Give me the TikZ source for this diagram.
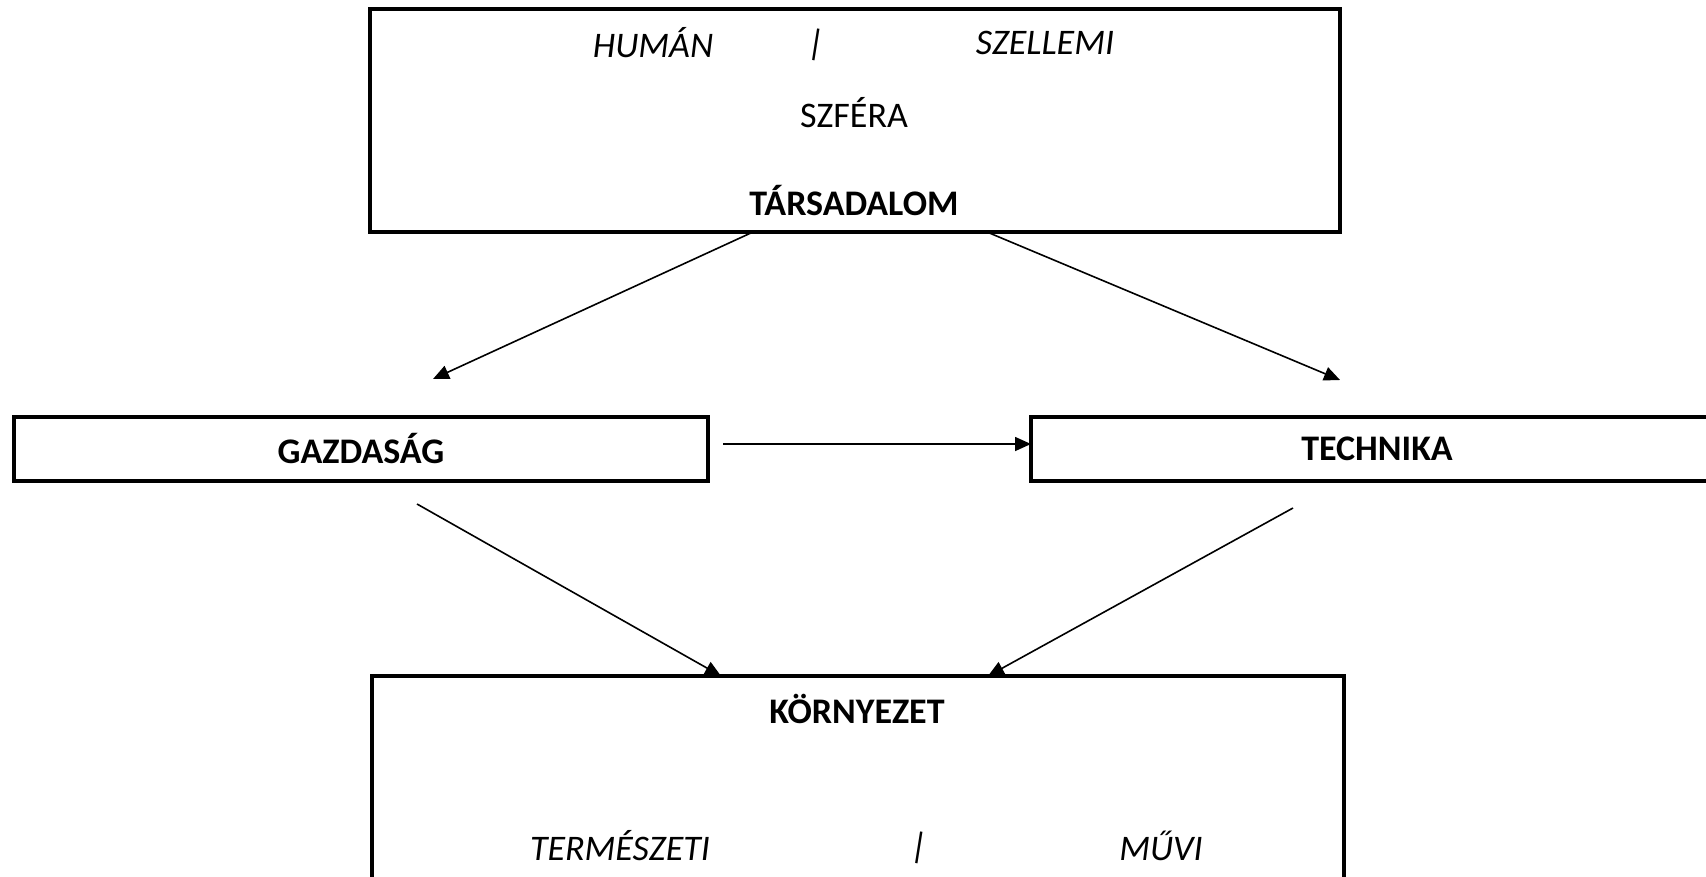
\documentclass[tikz,border=0pt]{standalone}
\usepackage{fontspec}
\setmainfont{Carlito}
\usetikzlibrary{arrows.meta}
\tikzset{
  doboz/.style={draw,line width=1.6pt,inner sep=0pt},
  felirat/.style={inner sep=0pt,font=\fontsize{18}{22}\selectfont},
  ferde/.style={felirat,rotate=-9},
  nyil/.style={->,line width=0.8pt}
}
\begin{document}
\begin{tikzpicture}[x=0.5pt,y=-0.5pt,>={Triangle[length=8pt,width=7pt]}]
\useasboundingbox (0,0) rectangle (1706,877);
\clip (0,0) rectangle (1706,877); %a kép széle
% dobozok
\node[doboz,minimum width=485pt,minimum height=111.5pt] (tars) at (855,120.5) {};
\node[doboz,minimum width=347pt,minimum height=32pt] (gazd) at (361,449) {};
\node[doboz,minimum width=346pt,minimum height=32pt] (tech) at (1377,449) {};
\node[doboz,minimum width=486pt,minimum height=112pt] (korny) at (858,788) {};
% feliratok
\node[felirat] (human) at (653,43) {\itshape HUMÁN};
\node[ferde] (vonal1) at (816,45) {|};
\node[felirat] (szell) at (1045,43) {\itshape SZELLEMI};
\node[felirat] (szfera) at (854,113) {SZFÉRA};
\node[felirat] (tarsfel) at (854,201) {\bfseries TÁRSADALOM};
\node[felirat] (gazdfel) at (361,449) {\bfseries GAZDASÁG};
\node[felirat] (techfel) at (1377,449) {\bfseries TECHNIKA};
\node[felirat] (kornyfel) at (857,709) {\bfseries KÖRNYEZET};
\node[felirat] (term) at (620,846) {\itshape TERMÉSZETI};
\node[ferde] (vonal2) at (919,848) {|};
\node[felirat] (muvi) at (1161,846) {\itshape MŰVI};
% nyilak végpontjai
\coordinate (t1) at (753,232); \coordinate (g1) at (433,379);
\coordinate (t2) at (987,232); \coordinate (h1) at (1340,380);
\coordinate (g2) at (723,444); \coordinate (h2) at (1031,444);
\coordinate (g3) at (417,504); \coordinate (k1) at (721,676);
\coordinate (h3) at (1293,508); \coordinate (k2) at (988,676);
% nyilak
\draw[nyil] (t1)--(g1);
\draw[nyil] (t2)--(h1);
\draw[nyil] (g2)--(h2);
\draw[nyil] (g3)--(k1);
\draw[nyil] (h3)--(k2);
\end{tikzpicture}
\end{document}
